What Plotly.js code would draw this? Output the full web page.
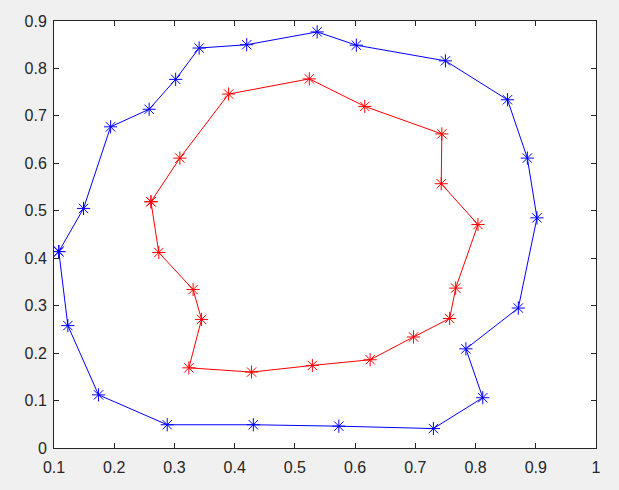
<!DOCTYPE html>
<html>
<head>
<meta charset="utf-8">
<script src="https://cdn.plot.ly/plotly-3.0.1.min.js"></script>
<style>html,body{margin:0;padding:0;background:#f0f0f0;}#chart{width:619px;height:490px;}</style>
</head>
<body>
<div id="chart"></div>
<script>
const blueX = [0.108, 0.123, 0.174, 0.288, 0.431, 0.573, 0.730, 0.812, 0.784, 0.871, 0.902, 0.886, 0.853, 0.750, 0.602, 0.537, 0.420, 0.341, 0.302, 0.258, 0.194, 0.149, 0.108];
const blueY = [0.414, 0.258, 0.112, 0.049, 0.049, 0.046, 0.041, 0.106, 0.209, 0.295, 0.485, 0.611, 0.734, 0.816, 0.849, 0.877, 0.850, 0.843, 0.777, 0.714, 0.677, 0.505, 0.414];
const redX = [0.261, 0.309, 0.390, 0.524, 0.616, 0.744, 0.743, 0.804, 0.767, 0.757, 0.697, 0.625, 0.529, 0.428, 0.324, 0.345, 0.331, 0.274, 0.261];
const redY = [0.519, 0.611, 0.746, 0.778, 0.720, 0.662, 0.557, 0.471, 0.337, 0.273, 0.234, 0.186, 0.174, 0.160, 0.169, 0.271, 0.334, 0.412, 0.519];
const xTicks = [0.1, 0.2, 0.3, 0.4, 0.5, 0.6, 0.7, 0.8, 0.9, 1];
const xTickText = ['0.1', '0.2', '0.3', '0.4', '0.5', '0.6', '0.7', '0.8', '0.9', '1'];
const yTicks = [0, 0.1, 0.2, 0.3, 0.4, 0.5, 0.6, 0.7, 0.8, 0.9];
const yTickText = ['0', '0.1', '0.2', '0.3', '0.4', '0.5', '0.6', '0.7', '0.8', '0.9'];

const traces = [
  {x: blueX, y: blueY, mode: 'lines+markers', type: 'scatter',
   line: {color: '#0000ff', width: 1},
   marker: {symbol: 'asterisk-open', size: 11, color: '#0000ff', line: {color: '#0000ff', width: 1}}},
  {x: redX, y: redY, mode: 'lines+markers', type: 'scatter',
   line: {color: '#ff0000', width: 1},
   marker: {symbol: 'asterisk-open', size: 11, color: '#ff0000', line: {color: '#ff0000', width: 1}}}
];
const axisCommon = {
  showgrid: false, zeroline: false, showline: true, linecolor: '#262626', linewidth: 1,
  mirror: 'allticks', ticks: 'inside', ticklen: 5, tickcolor: '#262626', tickwidth: 1,
  tickfont: {family: 'Liberation Sans, Arial, sans-serif', size: 16, color: '#262626'},
  tickmode: 'array'
};
const layout = {
  width: 619, height: 490,
  paper_bgcolor: '#f0f0f0', plot_bgcolor: '#ffffff',
  margin: {l: 54, r: 23, t: 21, b: 42},
  showlegend: false,
  xaxis: Object.assign({}, axisCommon, {range: [0.1, 1], tickvals: xTicks, ticktext: xTickText, ticklabelstandoff: 5}),
  yaxis: Object.assign({}, axisCommon, {range: [0, 0.9], tickvals: yTicks, ticktext: yTickText, ticklabelstandoff: 3})
};
Plotly.newPlot('chart', traces, layout, {staticPlot: true, displayModeBar: false});
</script>
</body>
</html>
